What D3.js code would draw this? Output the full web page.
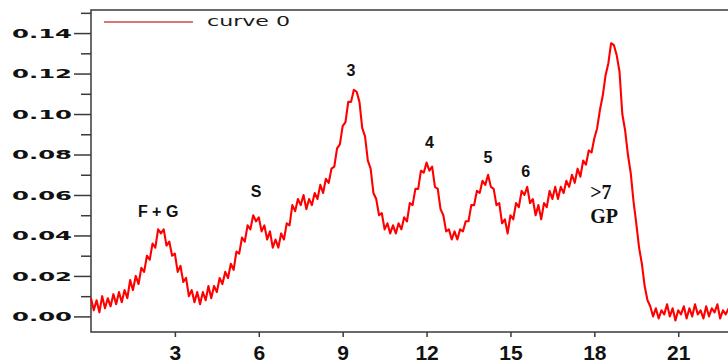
<!DOCTYPE html>
<html>
<head>
<meta charset="utf-8">
<script src="https://cdn.jsdelivr.net/npm/d3@7/dist/d3.min.js"></script>
<style>
  html, body { margin: 0; padding: 0; background: #ffffff; }
  svg { display: block; }
</style>
</head>
<body>
<svg id="chart" width="728" height="363"></svg>
<script>
// ---- data ----
const timeStep = 0.1;           // sampling interval of the trace (x units)
const seriesName = "curve 0";
const values = [
  .009,.003,.008,.002,.010,.004,.009,.005,.011,.006,
  .012,.007,.013,.009,.018,.013,.020,.016,.024,.022,
  .030,.028,.036,.034,.043,.041,.043,.035,.037,.030,
  .031,.022,.025,.017,.019,.010,.013,.007,.012,.006,
  .012,.008,.015,.009,.015,.012,.019,.016,.022,.019,
  .026,.023,.032,.031,.039,.037,.045,.043,.050,.047,
  .049,.042,.045,.038,.042,.034,.038,.034,.041,.038,
  .046,.045,.055,.052,.058,.055,.060,.053,.058,.055,
  .061,.058,.065,.061,.068,.066,.073,.074,.083,.085,
  .094,.096,.106,.106,.112,.111,.106,.093,.089,.077,
  .073,.061,.058,.050,.051,.043,.046,.041,.045,.041,
  .046,.043,.049,.047,.056,.055,.063,.063,.072,.071,
  .076,.072,.074,.064,.063,.053,.050,.042,.043,.038,
  .042,.038,.043,.042,.047,.047,.055,.055,.062,.061,
  .067,.065,.070,.064,.063,.055,.056,.046,.048,.041,
  .050,.048,.056,.054,.062,.060,.064,.056,.058,.050,
  .055,.048,.056,.054,.062,.058,.064,.058,.064,.061,
  .067,.064,.070,.066,.073,.069,.077,.075,.082,.081,
  .088,.093,.102,.109,.119,.125,.135,.134,.129,.121,
  .100,.092,.080,.071,.057,.046,.034,.026,.015,.008,
  .005,.000,.004,-.001,.003,.001,.006,.000,.004,-.002,
  .003,.001,.005,-.001,.004,.000,.006,.001,.003,-.001,
  .005,.000,.004,.002,.006,-.001,.003,.001,.004
];
const xTicks = [3, 6, 9, 12, 15, 18, 21];
const yMajorTicks = [0.00, 0.02, 0.04, 0.06, 0.08, 0.10, 0.12, 0.14];
const yMinorTicks = [0.01, 0.03, 0.05, 0.07, 0.09, 0.11, 0.13, 0.15];
const peakLabels = ["F + G", "S", "3", "4", "5", "6"];
const peakLabelX = [2.4, 5.9, 9.3, 12.1, 14.2, 15.55];
const peakLabelY = [0.049, 0.059, 0.119, 0.083, 0.076, 0.069];
const gpLabels = [">7", "GP"];
const gpLabelX = [17.85, 17.85];
const gpLabelY = [0.058, 0.046];

const data = values.map((v, i) => ({ t: i * timeStep, v: v }));

// ---- layout ----
const svg = d3.select("#chart");
const mLeft = 91, mRight = 728, mTop = 10, mBottom = 332;

const x = d3.scaleLinear().domain([0, 22.78]).range([mLeft, mRight]);
const y = d3.scaleLinear().domain([-0.0077, 0.1514]).range([mBottom, mTop]);

// frame
svg.append("path")
  .attr("d", `M${mRight},${mTop}H${mLeft}V${mBottom}H${mRight}`)
  .attr("fill", "none")
  .attr("stroke", "#3a3a3a")
  .attr("stroke-width", 1.5);

// y axis major
const yAxis = svg.append("g")
  .attr("transform", `translate(${mLeft},0)`)
  .call(d3.axisLeft(y).tickValues(yMajorTicks).tickSize(17).tickPadding(2)
        .tickFormat(d3.format(".2f")));
yAxis.select(".domain").remove();
yAxis.selectAll("line").attr("stroke", "#3a3a3a").attr("stroke-width", 1.5);
yAxis.selectAll("text")
  .attr("fill", "#111")
  .style("font-family", "'DejaVu Sans', Verdana, sans-serif")
  .style("font-weight", "bold")
  .style("font-size", "13px")
  .attr("textLength", 60)
  .attr("lengthAdjust", "spacingAndGlyphs");

// y axis minor
const yMinor = svg.append("g")
  .attr("transform", `translate(${mLeft},0)`)
  .call(d3.axisLeft(y).tickValues(yMinorTicks).tickSize(10).tickFormat(""));
yMinor.select(".domain").remove();
yMinor.selectAll("line").attr("stroke", "#3a3a3a").attr("stroke-width", 1.5);

// x axis
const xAxis = svg.append("g")
  .attr("transform", `translate(0,${mBottom})`)
  .call(d3.axisBottom(x).tickValues(xTicks).tickSize(5).tickPadding(8)
        .tickFormat(d3.format("d")));
xAxis.select(".domain").remove();
xAxis.selectAll("line").attr("stroke", "#3a3a3a").attr("stroke-width", 1.5);
xAxis.selectAll("text")
  .attr("fill", "#111")
  .style("font-family", "'Liberation Sans', Arial, sans-serif")
  .style("font-weight", "bold")
  .style("font-size", "21px");

// curve
const line = d3.line().x(d => x(d.t)).y(d => y(d.v));
svg.append("path")
  .datum(data)
  .attr("d", line)
  .attr("fill", "none")
  .attr("stroke", "#ff0000")
  .attr("stroke-width", 2.1)
  .attr("stroke-linejoin", "round");

// legend
svg.append("line")
  .attr("x1", 104).attr("x2", 193).attr("y1", 22).attr("y2", 22)
  .attr("stroke", "#d04848").attr("stroke-width", 1.6);
svg.append("text")
  .attr("x", 207).attr("y", 26)
  .attr("fill", "#1a1a1a")
  .style("font-family", "'DejaVu Sans', Verdana, sans-serif")
  .style("font-size", "14px")
  .attr("textLength", 83)
  .attr("lengthAdjust", "spacingAndGlyphs")
  .text(seriesName);

// peak labels
svg.append("g").selectAll("text")
  .data(peakLabels)
  .join("text")
  .attr("x", (d, i) => x(peakLabelX[i]))
  .attr("y", (d, i) => y(peakLabelY[i]))
  .attr("text-anchor", "middle")
  .attr("fill", "#111")
  .style("font-family", "'Liberation Sans', Arial, sans-serif")
  .style("font-weight", "bold")
  .style("font-size", "16px")
  .text(d => d);

svg.append("g").selectAll("text")
  .data(gpLabels)
  .join("text")
  .attr("x", (d, i) => x(gpLabelX[i]))
  .attr("y", (d, i) => y(gpLabelY[i]))
  .attr("fill", "#111")
  .style("font-family", "'Liberation Serif', 'Times New Roman', serif")
  .style("font-weight", "bold")
  .style("font-size", "20px")
  .text(d => d);
</script>
</body>
</html>
